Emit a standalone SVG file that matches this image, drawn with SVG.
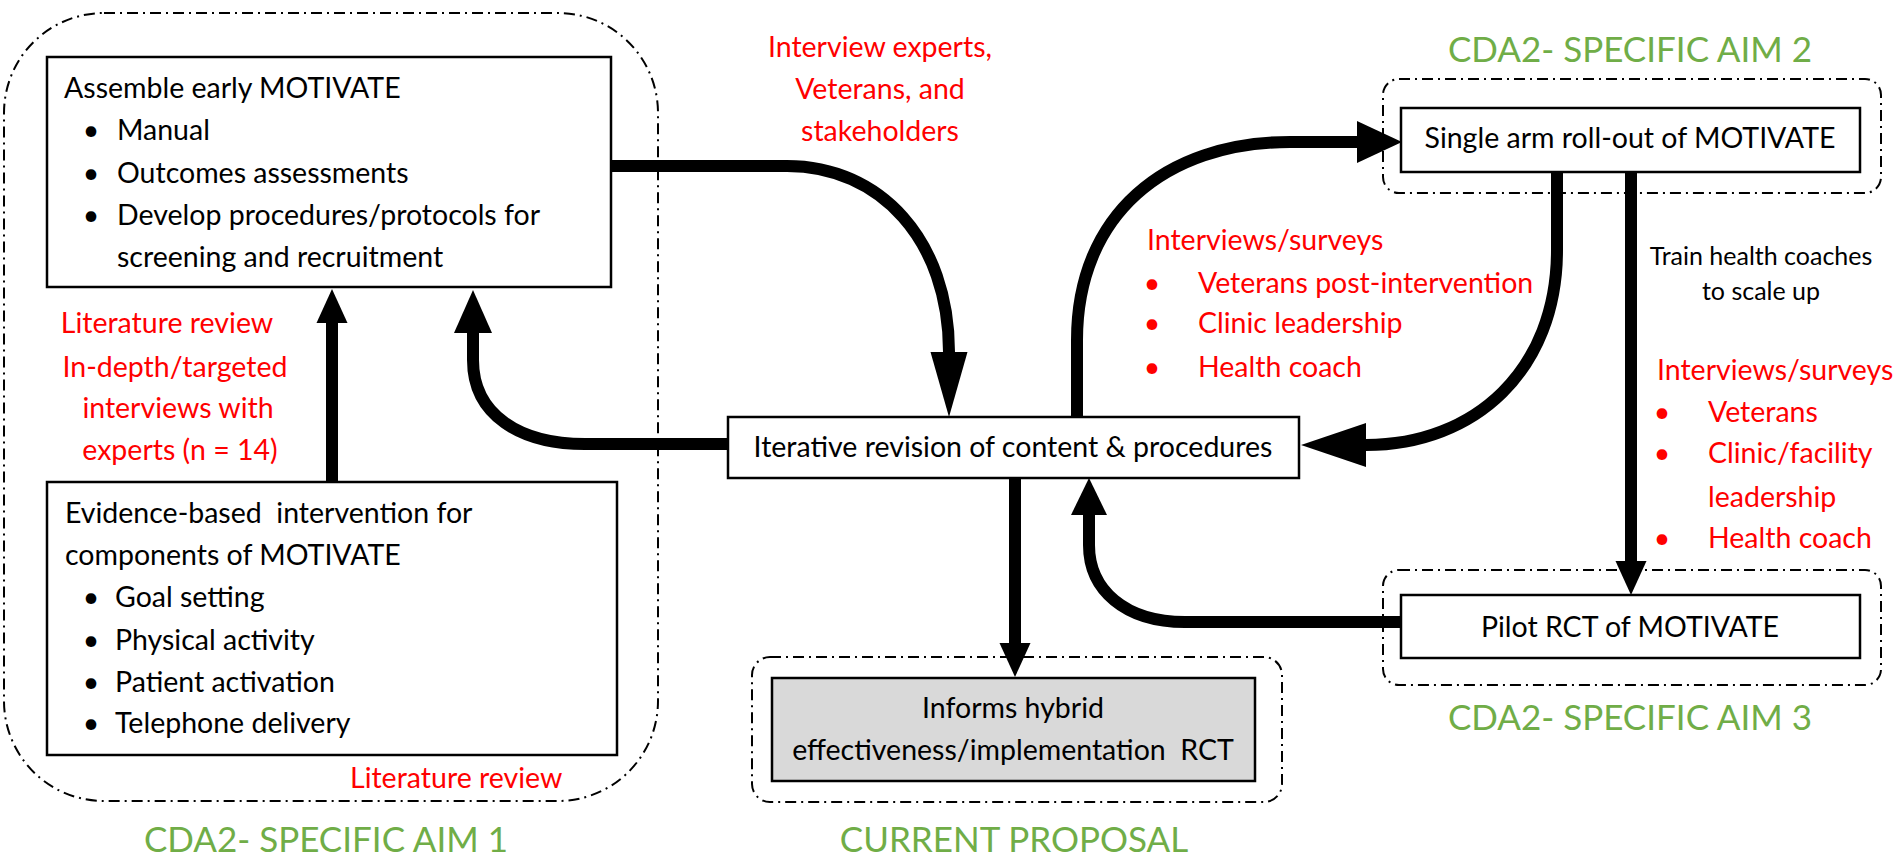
<svg xmlns="http://www.w3.org/2000/svg" width="1893" height="865" viewBox="0 0 1893 865">
<style>
text{font-family:Lato,"Liberation Sans",sans-serif;font-size:28.5px;fill:#000}
.red{fill:#ff0000}
.green{fill:#70ad47;font-size:35px}
.small{font-size:25px}
.mid{text-anchor:middle}
.box{fill:#fff;stroke:#000;stroke-width:2.5}
.gray{fill:#d9d9d9}
.grp{fill:none;stroke:#000;stroke-width:2;stroke-dasharray:11 5 2 5}
.conn{fill:none;stroke:#000;stroke-width:12}
.head{fill:#000;stroke:none}
</style>
<rect width="1893" height="865" fill="#fff"/>
<g id="containers">
<rect id="aim1-frame" class="grp" x="4" y="13" width="654" height="788" rx="100"/>
<rect id="aim2-frame" class="grp" x="1383" y="79" width="498" height="114" rx="16"/>
<rect id="aim3-frame" class="grp" x="1383" y="570" width="498" height="115" rx="16"/>
<rect id="proposal-frame" class="grp" x="752" y="657" width="530" height="145" rx="18"/>
</g>
<g id="connectors">
<path class="conn" d="M611 166 L787 166 C880 166 949 240 949 352"/>
<polygon class="head" points="930.5,352 967.5,352 949,417"/>
<path class="conn" d="M332 482 L332 323"/>
<polygon class="head" points="316.5,323 347.5,323 332,289"/>
<path class="conn" d="M728 444 L585 444 C520 444 473 415 473 360 L473 333"/>
<polygon class="head" points="454,333 492,333 473,290"/>
<path class="conn" d="M1077 417 L1077 340 C1077 215 1165 142 1290 142 L1357 142"/>
<polygon class="head" points="1357,121 1357,163 1402,142"/>
<path class="conn" d="M1557 172 L1557 250 C1557 370 1475 445 1366 445"/>
<polygon class="head" points="1366,423 1366,467 1301,445"/>
<path class="conn" d="M1631 172 L1631 561"/>
<polygon class="head" points="1615.5,561 1646.5,561 1631,595"/>
<path class="conn" d="M1015 478 L1015 643"/>
<polygon class="head" points="999.5,643 1030.5,643 1015,677"/>
<path class="conn" d="M1401 622 L1185 622 C1125 622 1089 590 1089 545 L1089 515"/>
<polygon class="head" points="1071,515 1107,515 1089,478"/>
</g>
<g id="assemble">
<rect class="box" x="47" y="57" width="564" height="230"/>
<text x="64" y="98">Assemble early MOTIVATE</text>
<text class="mid" x="91" y="140">•</text><text x="117" y="140">Manual</text>
<text class="mid" x="91" y="183">•</text><text x="117" y="183">Outcomes assessments</text>
<text class="mid" x="91" y="225">•</text><text x="117" y="225">Develop procedures/protocols for</text>
<text x="117" y="267">screening and recruitment</text>
</g>
<g id="evidence">
<rect class="box" x="47" y="482" width="570" height="273"/>
<text x="65" y="523" xml:space="preserve">Evidence-based  intervention for</text>
<text x="65" y="565">components of MOTIVATE</text>
<text class="mid" x="91" y="607">•</text><text x="115" y="607">Goal setting</text>
<text class="mid" x="91" y="650">•</text><text x="115" y="650">Physical activity</text>
<text class="mid" x="91" y="692">•</text><text x="115" y="692">Patient activation</text>
<text class="mid" x="91" y="733">•</text><text x="115" y="733">Telephone delivery</text>
</g>
<g id="iterative">
<rect class="box" x="728" y="417" width="571" height="61"/>
<text class="mid" x="1013" y="457">Iterative revision of content &amp; procedures</text>
</g>
<g id="single-arm">
<rect class="box" x="1401" y="108" width="459" height="64"/>
<text class="mid" x="1630" y="148">Single arm roll-out of MOTIVATE</text>
</g>
<g id="pilot">
<rect class="box" x="1401" y="595" width="459" height="63"/>
<text class="mid" x="1630" y="637">Pilot RCT of MOTIVATE</text>
</g>
<g id="informs">
<rect class="box gray" x="772" y="678" width="483" height="103"/>
<text class="mid" x="1013" y="718">Informs hybrid</text>
<text class="mid" x="1013" y="760" xml:space="preserve">effectiveness/implementation  RCT</text>
</g>
<g id="labels">
<text class="red mid" x="167" y="333">Literature review</text>
<text class="red mid" x="175" y="377">In-depth/targeted</text>
<text class="red mid" x="178" y="418">interviews with</text>
<text class="red mid" x="180" y="460">experts (n = 14)</text>
<text class="red" x="350" y="788">Literature review</text>
<text class="green mid" x="326" y="852">CDA2- SPECIFIC AIM 1</text>
<text class="red mid" x="880" y="57">Interview experts,</text>
<text class="red mid" x="880" y="99">Veterans, and</text>
<text class="red mid" x="880" y="141">stakeholders</text>
<text class="red" x="1147" y="250">Interviews/surveys</text>
<text class="red mid" x="1152" y="293">•</text><text class="red" x="1198" y="293">Veterans post-intervention</text>
<text class="red mid" x="1152" y="333">•</text><text class="red" x="1198" y="333">Clinic leadership</text>
<text class="red mid" x="1152" y="377">•</text><text class="red" x="1198" y="377">Health coach</text>
<text class="green mid" x="1630" y="62">CDA2- SPECIFIC AIM 2</text>
<text class="small mid" x="1761" y="265">Train health coaches</text>
<text class="small mid" x="1761" y="300">to scale up</text>
<text class="red" x="1657" y="380">Interviews/surveys</text>
<text class="red mid" x="1662" y="422">•</text><text class="red" x="1708" y="422">Veterans</text>
<text class="red mid" x="1662" y="463">•</text><text class="red" x="1708" y="463">Clinic/facility</text>
<text class="red" x="1708" y="507">leadership</text>
<text class="red mid" x="1662" y="548">•</text><text class="red" x="1708" y="548">Health coach</text>
<text class="green mid" x="1630" y="730">CDA2- SPECIFIC AIM 3</text>
<text class="green mid" x="1014" y="852">CURRENT PROPOSAL</text>
</g>
</svg>
